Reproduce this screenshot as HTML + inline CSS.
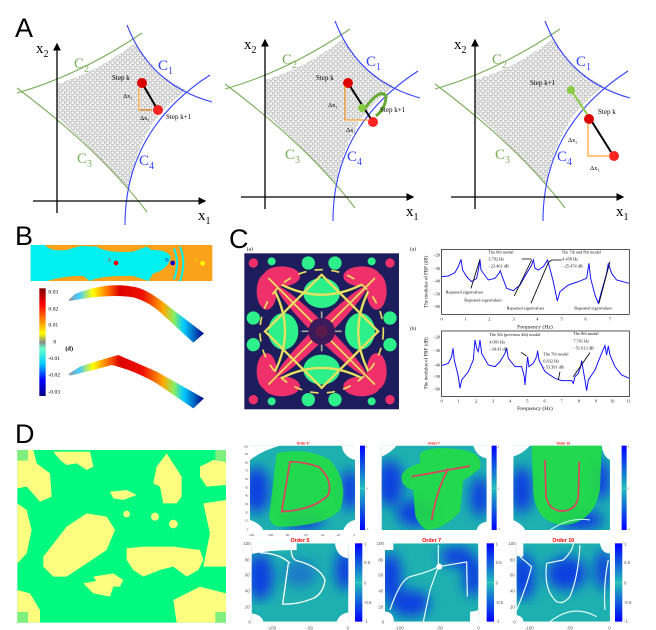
<!DOCTYPE html>
<html><head><style>
body{margin:0;background:#fff;width:656px;height:630px;overflow:hidden}
svg{display:block;font-family:"Liberation Serif",serif}
.L{font-family:"Liberation Sans",sans-serif;font-size:27px}
</style></head><body>
<svg width="656" height="630" viewBox="0 0 656 630">
<defs>
<pattern id="hat" width="5" height="5" patternUnits="userSpaceOnUse"><rect width="5" height="5" fill="#fff"/><rect x="1" y="1" width="3.2" height="3.2" fill="none" stroke="#888" stroke-width="0.55"/></pattern>
<marker id="ar" markerWidth="6" markerHeight="6" refX="5" refY="3" orient="auto"><path d="M0,0L6,3L0,6z" fill="#000"/></marker>
<linearGradient id="jet" x1="0" y1="0" x2="0" y2="1"><stop offset="0" stop-color="#800000"/><stop offset=".15" stop-color="#f00"/><stop offset=".3" stop-color="#f80"/><stop offset=".42" stop-color="#ff0"/><stop offset=".5" stop-color="#888"/><stop offset=".56" stop-color="#6fc"/><stop offset=".7" stop-color="#0cf"/><stop offset=".85" stop-color="#00f"/><stop offset="1" stop-color="#008"/></linearGradient>
<linearGradient id="beam" x1="0" x2="1"><stop offset="0" stop-color="#999"/><stop offset=".08" stop-color="#4cf"/><stop offset=".18" stop-color="#ff0"/><stop offset=".3" stop-color="#f60"/><stop offset=".38" stop-color="#d00"/><stop offset=".55" stop-color="#e10"/><stop offset=".7" stop-color="#fa0"/><stop offset=".78" stop-color="#8e6"/><stop offset=".85" stop-color="#0cf"/><stop offset="1" stop-color="#008"/></linearGradient>
<linearGradient id="cb" x1="0" y1="0" x2="0" y2="1"><stop offset="0" stop-color="#00f"/><stop offset=".5" stop-color="#2bb"/><stop offset=".5" stop-color="#7dd"/><stop offset=".51" stop-color="#2bb"/><stop offset="1" stop-color="#00f"/></linearGradient>
<filter id="bf"><feGaussianBlur stdDeviation="18"/></filter>
<g id="panA">
<path d="M57,84 Q97,72 135,43 Q152,75 187,90 Q140,120 128,190 Q95,150 57,117 Z" fill="url(#hat)"/>
<path d="M17,93 Q80,75 142,33" stroke="#7aae5a" fill="none" stroke-width="1.1"/>
<path d="M17,88 Q100,150 147,212" stroke="#7aae5a" fill="none" stroke-width="1.1"/>
<path d="M127,25 Q150,85 212,102" stroke="#3344ff" fill="none" stroke-width="1.1"/>
<path d="M125,225 Q125,130 210,75" stroke="#3344ff" fill="none" stroke-width="1.1"/>
<line x1="57" y1="213" x2="57" y2="44" stroke="#000" stroke-width="1.3" marker-end="url(#ar)"/>
<line x1="33" y1="201" x2="205" y2="201" stroke="#000" stroke-width="1.3" marker-end="url(#ar)"/>
<text x="36" y="53" font-size="15">x<tspan font-size="10" dy="4">2</tspan></text>
<text x="198" y="220" font-size="15">x<tspan font-size="10" dy="4">1</tspan></text>
<text x="74" y="68" font-size="15" fill="#7aae5a">C<tspan font-size="10" dy="4">2</tspan></text>
<text x="158" y="70" font-size="15" fill="#3344ff">C<tspan font-size="10" dy="4">1</tspan></text>
<text x="77" y="163" font-size="15" fill="#7aae5a">C<tspan font-size="10" dy="4">3</tspan></text>
<text x="139" y="165" font-size="15" fill="#3344ff">C<tspan font-size="10" dy="4">4</tspan></text>
</g>
</defs>
<text class="L" x="15" y="37">A</text>
<use href="#panA"/>
<line x1="142" y1="83" x2="156" y2="107" stroke="#000" stroke-width="2"/>
<circle cx="142" cy="83" r="5" fill="#d00"/><circle cx="158" cy="110" r="5" fill="#f22"/>
<path d="M139,88V110H152" stroke="#f80" fill="none"/>
<text x="112" y="80" font-size="7">Step k</text><text x="166" y="119" font-size="7">Step k+1</text>
<text x="123" y="98" font-size="6.5">Δx₂</text><text x="140" y="120" font-size="6.5">Δx₁</text>
<g transform="translate(208,-4)"><use href="#panA"/>
<line x1="140" y1="87" x2="163" y2="123" stroke="#000" stroke-width="2"/>
<circle cx="140" cy="87" r="5" fill="#d00"/><circle cx="165" cy="126" r="5" fill="#f22"/>
<path d="M157,112 Q172,92 178,100 Q178,112 168,120" stroke="#6a3" stroke-width="3" fill="none"/>
<circle cx="154" cy="112" r="4" fill="#8c4"/>
<path d="M137,90V124H160" stroke="#f80" fill="none"/>
<text x="108" y="84" font-size="7">Step k</text><text x="172" y="116" font-size="7">Step k+1</text>
<text x="120" y="111" font-size="6.5">Δx₂</text><text x="138" y="136" font-size="6.5">Δx₁</text></g>
<g transform="translate(418,-4)"><use href="#panA"/>
<line x1="153" y1="94" x2="171" y2="121" stroke="#8c4" stroke-width="2"/>
<line x1="171" y1="121" x2="193" y2="156" stroke="#000" stroke-width="2"/>
<circle cx="153" cy="94" r="4" fill="#8c4"/><circle cx="171" cy="123" r="5" fill="#d00"/><circle cx="196" cy="160" r="5" fill="#f22"/>
<path d="M170,128V160H192" stroke="#f80" fill="none"/>
<text x="112" y="89" font-size="7">Step k+1</text><text x="180" y="118" font-size="7">Step k</text>
<text x="150" y="146" font-size="6.5">Δx₂</text><text x="172" y="174" font-size="6.5">Δx₁</text></g>

<!-- B -->
<text class="L" x="15" y="245">B</text>
<g transform="translate(0,220) scale(0.3333)">
<rect x="92" y="75" width="545" height="108" fill="#f9a21a"/>
<path d="M92,75 H135 Q150,95 200,90 L240,78 L290,80 Q320,100 400,95 L440,80 L455,90 Q500,88 512,110 Q505,150 460,160 L445,183 L400,168 Q300,166 270,183 L250,168 Q200,166 140,183 H92 Z" fill="#00f0f0"/>
<path d="M522,85 Q540,128 522,178 M540,80 Q560,128 540,183" stroke="#00f0f0" stroke-width="6" fill="none"/>
<circle cx="348" cy="129" r="7" fill="#e00"/><circle cx="518" cy="129" r="7" fill="#00c"/><circle cx="608" cy="130" r="7" fill="#ff0"/>
<text x="322" y="124" font-size="17" fill="#d33">A</text><text x="495" y="124" font-size="17" fill="#22c">B</text><text x="582" y="124" font-size="17" fill="#ee0">C</text>
<rect x="118" y="205" width="19" height="323" fill="url(#jet)"/>
<g font-size="17"><text x="145" y="220">0.03</text><text x="145" y="272">0.02</text><text x="145" y="320">0.01</text><text x="160" y="370">0</text><text x="145" y="420">-0.01</text><text x="145" y="470">-0.02</text><text x="145" y="520">-0.03</text><text x="196" y="392" font-weight="bold" font-size="19">(d)</text></g>
<path d="M205,240 L225,222 Q330,180 420,205 Q460,220 520,270 L612,340 L580,368 L495,290 Q450,245 400,232 Q320,220 210,243 Z" fill="url(#beam)"/>
<path d="M205,462 L240,440 Q300,420 355,405 L470,455 L612,535 L580,565 L470,490 Q400,450 335,435 Q290,448 210,467 Z" fill="url(#beam)"/>
</g>

<!-- C -->
<text class="L" x="229" y="248">C</text>
<g transform="translate(225,220) scale(0.3333)">
<text x="65" y="92" font-size="17">(a)</text>
<rect x="58" y="100" width="464" height="468" fill="#1d1d5e"/>
<g transform="translate(290,334)">
<g fill="#f0306a"><ellipse rx="190" ry="22" transform="rotate(45)"/><ellipse rx="190" ry="22" transform="rotate(-45)"/>
<ellipse cx="-120" cy="-165" rx="55" ry="30"/><ellipse cx="120" cy="-165" rx="55" ry="30"/><ellipse cx="-120" cy="165" rx="55" ry="30"/><ellipse cx="120" cy="165" rx="55" ry="30"/>
<ellipse cx="-165" cy="-120" rx="30" ry="55"/><ellipse cx="165" cy="-120" rx="30" ry="55"/><ellipse cx="-165" cy="120" rx="30" ry="55"/><ellipse cx="165" cy="120" rx="30" ry="55"/>
<circle cx="-205" cy="-205" r="14"/><circle cx="205" cy="-205" r="14"/><circle cx="-205" cy="205" r="14"/><circle cx="205" cy="205" r="14"/></g>
<g fill="#2ef08a"><ellipse cx="0" cy="-115" rx="55" ry="45"/><ellipse cx="0" cy="115" rx="55" ry="45"/><ellipse cx="-115" cy="0" rx="45" ry="55"/><ellipse cx="115" cy="0" rx="45" ry="55"/>
<circle cx="-205" cy="-40" r="20"/><circle cx="205" cy="-40" r="20"/><circle cx="-205" cy="40" r="20"/><circle cx="205" cy="40" r="20"/>
<circle cx="-40" cy="-205" r="20"/><circle cx="40" cy="-205" r="20"/><circle cx="-40" cy="205" r="20"/><circle cx="40" cy="205" r="20"/>
<circle cx="-150" cy="-210" r="12"/><circle cx="150" cy="-210" r="12"/><circle cx="-150" cy="210" r="12"/><circle cx="150" cy="210" r="12"/></g>
<g stroke="#e8e060" stroke-width="7" fill="none"><rect x="-120" y="-120" width="240" height="240" transform="rotate(45)"/><path d="M-160,-160L160,160M160,-160L-160,160" stroke-width="5"/><circle r="185" stroke-width="5" stroke-dasharray="25 25"/><path d="M-120,-140Q0,-80 120,-140M-120,140Q0,80 120,140M-140,-120Q-80,0 -140,120M140,-120Q80,0 140,120"/><path d="M-60,0H60M0,-60V60" stroke="#aa9" stroke-width="5"/></g>
<circle r="40" fill="#3a1a5a"/><circle r="18" fill="#5a1a4a"/>
</g>
<g font-size="13" fill="#111">
<rect x="650" y="88" width="563" height="195" fill="none" stroke="#000" stroke-width="2"/>
<path d="M650,170 L670,168 L690,158 L700,140 L708,118 L713,150 L725,170 L740,185 L755,175 L762,140 L765,118 L768,150 L790,180 L810,175 L822,160 L826,152 L830,165 L845,205 L865,212 L885,195 L905,160 L920,135 L925,120 L930,145 L940,150 L955,140 L968,120 L972,135 L985,185 L997,243 L1005,215 L1030,195 L1060,185 L1085,175 L1092,130 L1097,175 L1110,225 L1120,250 L1128,220 L1145,160 L1150,130 L1160,160 L1175,180 L1212,190" stroke="#1515ff" fill="none" stroke-width="3"/>
<path d="M738,205L765,118M868,228L920,120M890,117H920M918,250L970,128L980,120H1010M1122,250L1155,125" stroke="#000" stroke-width="2.5" fill="none"/>
<text x="790" y="100">The 6th modal</text><text x="790" y="122">3.792 Hz</text><text x="790" y="143">−23.461 dB</text>
<text x="1010" y="100">The 7th and 8th modal</text><text x="1012" y="122">4.458 Hz</text><text x="1012" y="143">−25.474 dB</text>
<text x="662" y="220">Repeated eigenvalues</text><text x="718" y="245">Repeated eigenvalues</text><text x="845" y="268">Repeated eigenvalues</text><text x="1048" y="268">Repeated eigenvalues</text>
<g text-anchor="end"><text x="645" y="109">−20</text><text x="645" y="150">−30</text><text x="645" y="187">−40</text><text x="645" y="226">−50</text><text x="645" y="264">−60</text>
<text x="645" y="356">−20</text><text x="645" y="396">−30</text><text x="645" y="439">−40</text><text x="645" y="474">−50</text><text x="645" y="512">−60</text></g>
<g text-anchor="middle"><text x="650" y="302">0</text><text x="722" y="302">1</text><text x="793" y="302">2</text><text x="866" y="302">3</text><text x="937" y="302">4</text><text x="1010" y="302">5</text><text x="1082" y="302">6</text><text x="1155" y="302">7</text>
<text x="650" y="548">0</text><text x="701" y="548">1</text><text x="753" y="548">2</text><text x="804" y="548">3</text><text x="856" y="548">4</text><text x="907" y="548">5</text><text x="959" y="548">6</text><text x="1010" y="548">7</text><text x="1062" y="548">8</text><text x="1113" y="548">9</text><text x="1162" y="548">10</text><text x="1210" y="548">11</text>
<text x="930" y="326" font-size="17">Frequency (Hz)</text><text x="930" y="570" font-size="17">Frequency (Hz)</text></g>
<text transform="translate(607,185)rotate(-90)" text-anchor="middle" font-size="15">The modulus of FRF (dB)</text>
<text transform="translate(607,430)rotate(-90)" text-anchor="middle" font-size="15">The modulus of FRF (dB)</text>
<text x="555" y="92" font-size="16">(a)</text><text x="555" y="330" font-size="16">(b)</text>
<rect x="650" y="333" width="563" height="197" fill="none" stroke="#000" stroke-width="2"/>
<path d="M650,437 L670,430 L680,410 L684,385 L688,420 L700,470 L705,505 L710,480 L730,455 L745,420 L750,360 L755,385 L760,395 L765,360 L770,400 L790,435 L810,440 L825,425 L840,400 L845,385 L850,415 L870,440 L890,440 L898,470 L900,495 L905,440 L908,410 L912,440 L925,430 L935,410 L938,392 L942,420 L960,455 L990,475 L1010,482 L1040,482 L1045,490 L1050,470 L1060,460 L1067,440 L1070,422 L1073,440 L1080,480 L1085,512 L1090,480 L1110,450 L1130,400 L1140,377 L1145,405 L1150,378 L1155,405 L1170,440 L1190,465 L1213,475" stroke="#1515ff" fill="none" stroke-width="3"/>
<path d="M888,397L905,408M1000,480L1005,455M1045,470L1095,398" stroke="#000" stroke-width="2.5"/>
<text x="793" y="348">The 5th (previous 4th) modal</text><text x="793" y="370">4.991 Hz</text><text x="793" y="392">−34.41 dB</text>
<text x="955" y="407">The 7th modal</text><text x="955" y="428">6.832 Hz</text><text x="955" y="445">−53.391 dB</text>
<text x="1045" y="345">The 8th modal</text><text x="1045" y="368">7.701 Hz</text><text x="1045" y="388">−51.013 dB</text>
</g>
</g>

<!-- D -->
<text class="L" x="15" y="443">D</text>
<g transform="translate(0,420) scale(0.3333)">
<rect x="52" y="90" width="626" height="518" fill="#00fa80"/>
<g fill="#fdfd80">
<path d="M52,90H100L110,130L150,160L155,230L120,245L80,200L52,205Z"/>
<path d="M160,95H270L280,140L260,150L230,130L200,135L180,120Z"/>
<path d="M470,140L500,100L545,170L545,230L530,250L490,250L480,200L460,190Z"/>
<path d="M600,140L640,120L678,125V195L620,200L600,170Z"/>
<path d="M52,250L80,270L95,330L80,400L52,430Z"/>
<path d="M130,410L200,320L260,280L320,290L345,330L320,390L260,430L200,470L160,470L130,440Z"/>
<path d="M330,215L380,210L410,225L370,240L340,235Z"/>
<circle cx="465" cy="290" r="12"/><circle cx="520" cy="312" r="13"/><circle cx="380" cy="282" r="10"/>
<path d="M380,385L430,380L520,380L600,390L610,420L595,450L560,470L520,440L480,450L430,470L400,450L380,420Z"/>
<path d="M610,250L678,240V440H610L630,340Z"/>
<path d="M52,510L90,520L120,570V608H52Z"/>
<path d="M250,490L300,480L340,500L330,530L280,520Z"/>
<path d="M520,540L600,500L678,520V608H530Z"/>
<path d="M280,470L340,460L370,480L360,500L300,500Z"/>
</g>
<g fill="#7ff07f"><rect x="52" y="90" width="32" height="32"/><rect x="646" y="90" width="32" height="32"/><rect x="52" y="576" width="32" height="32"/><rect x="646" y="576" width="32" height="32"/></g>
</g>
<g transform="translate(230,430) scale(0.3333)" font-family="Liberation Sans,sans-serif">
<defs>
<clipPath id="c1"><rect x="60" y="47" width="315" height="253"/></clipPath>
<clipPath id="c2"><rect x="455" y="47" width="315" height="253"/></clipPath>
<clipPath id="c3"><rect x="850" y="47" width="290" height="253"/></clipPath>
<clipPath id="c4"><rect x="65" y="340" width="290" height="235"/></clipPath>
<clipPath id="c5"><rect x="465" y="340" width="280" height="235"/></clipPath>
<clipPath id="c6"><rect x="860" y="340" width="280" height="235"/></clipPath>
</defs>
<g clip-path="url(#c1)"><rect x="60" y="47" width="315" height="253" fill="#1eb0b0"/><g filter="url(#bf)" fill="#1040e0"><ellipse cx="80" cy="180" rx="40" ry="70"/><ellipse cx="360" cy="180" rx="30" ry="60"/><ellipse cx="220" cy="270" rx="60" ry="30"/></g>
<path d="M60,47H150Q100,60 60,90Z M60,270Q90,280 100,300H60Z M335,47H375V90Q340,80 335,47Z M340,300Q350,275 375,270V300Z" fill="#fff"/>
<path d="M140,70 Q230,50 300,90 Q360,160 330,240 Q280,290 150,290 Q110,285 120,240 Z" fill="#22dd44" opacity=".9"/>
<path d="M180,95 L155,245 Q250,240 295,195 Q310,150 265,110 Q220,95 180,95 Z" stroke="#e04060" stroke-width="5" fill="none"/></g>
<g clip-path="url(#c2)"><rect x="455" y="47" width="315" height="253" fill="#1eb0b0"/><g filter="url(#bf)" fill="#1040e0"><ellipse cx="480" cy="160" rx="40" ry="70"/><ellipse cx="750" cy="200" rx="30" ry="60"/><ellipse cx="560" cy="250" rx="60" ry="40"/></g>
<path d="M455,47H500Q480,70 455,80Z M740,300Q745,280 770,275V300Z M730,47H770V85Q740,80 730,47Z" fill="#fff"/>
<path d="M570,70 Q600,45 700,60 Q760,70 750,115 Q720,140 700,150 L690,245 Q640,300 590,300 Q560,280 555,250 L550,180 Q510,170 515,135 Q530,110 570,100 Z" fill="#22dd44" opacity=".9"/>
<path d="M545,140 L720,108 M655,115 Q620,180 605,270" stroke="#e04060" stroke-width="5" fill="none"/></g>
<g clip-path="url(#c3)"><rect x="850" y="47" width="290" height="253" fill="#1eb0b0"/><g filter="url(#bf)" fill="#1040e0"><ellipse cx="875" cy="180" rx="35" ry="70"/><ellipse cx="1110" cy="150" rx="30" ry="60"/><ellipse cx="1050" cy="270" rx="70" ry="30"/></g>
<path d="M850,47H900Q880,70 850,80Z M850,270Q880,285 885,300H850Z M1115,47H1140V90Q1120,80 1115,47Z" fill="#fff"/>
<path d="M905,47 H1115 L1110,180 Q1090,280 1000,285 Q920,280 910,190 Z" fill="#22dd44" opacity=".9"/>
<path d="M945,90 L948,200 Q960,245 1000,243 Q1040,240 1045,200 L1048,95" stroke="#e04060" stroke-width="5" fill="none"/>
<path d="M960,300Q1020,260 1080,270" stroke="#cfe" stroke-width="3" fill="none"/></g>
<g clip-path="url(#c4)"><rect x="65" y="340" width="290" height="235" fill="#1eb0b0"/><g filter="url(#bf)" fill="#1040e0"><ellipse cx="90" cy="440" rx="40" ry="70"/><ellipse cx="345" cy="420" rx="30" ry="60"/><ellipse cx="210" cy="430" rx="50" ry="40" opacity=".5"/></g>
<path d="M65,340H200V360Q120,360 65,372Z M65,550Q95,555 100,575H65Z M315,340H355V385Q320,380 315,340Z M320,575Q330,550 355,548V575Z" fill="#fff"/>
<path d="M90,368Q150,370 180,400M185,345Q180,385 200,392Q270,410 285,450Q280,490 250,505Q200,525 158,522L175,400" stroke="#fff" stroke-width="4" fill="none"/></g>
<g clip-path="url(#c5)"><rect x="465" y="340" width="280" height="235" fill="#1eb0b0"/><g filter="url(#bf)" fill="#1040e0"><ellipse cx="480" cy="440" rx="35" ry="70"/><ellipse cx="730" cy="440" rx="30" ry="60"/><ellipse cx="540" cy="520" rx="60" ry="40"/><ellipse cx="680" cy="380" rx="50" ry="30"/></g>
<path d="M465,340H490V360Q470,360 465,360Z M465,545Q490,545 492,575H465Z M720,545Q730,545 745,540V575H720Z" fill="#fff"/>
<path d="M480,540Q510,450 540,440Q600,425 625,410L710,396L712,500M625,345L625,410L600,480L580,575" stroke="#eff" stroke-width="3.5" fill="none"/><circle cx="628" cy="410" r="9" fill="#fff"/></g>
<g clip-path="url(#c6)"><rect x="860" y="340" width="280" height="235" fill="#1eb0b0"/><g filter="url(#bf)" fill="#1040e0"><ellipse cx="880" cy="440" rx="35" ry="70"/><ellipse cx="1010" cy="430" rx="60" ry="50"/><ellipse cx="1120" cy="420" rx="25" ry="60"/></g>
<path d="M860,340H880V380Q870,380 860,378Z M1110,340H1140V370Q1115,370 1110,340Z M860,555Q880,560 880,575H860Z" fill="#fff"/>
<path d="M950,400Q940,480 980,515Q1000,525 1020,500Q1045,440 1050,345M950,400L1000,390Q1030,360 1030,340M870,380L905,410M860,540Q890,470 905,410M960,575Q1030,520 1100,560M1135,390Q1120,460 1125,540" stroke="#eff" stroke-width="3.5" fill="none"/></g>
<g fill="url(#cb)"><rect x="390" y="47" width="15" height="253"/><rect x="785" y="47" width="15" height="253"/><rect x="1175" y="47" width="15" height="253"/><rect x="375" y="340" width="22" height="235"/><rect x="770" y="340" width="22" height="235"/><rect x="1155" y="340" width="22" height="235"/></g>
<g fill="#f00" font-weight="bold" text-anchor="middle"><text x="218" y="43" font-size="10">Order 5</text><text x="612" y="43" font-size="10">Order 7</text><text x="1000" y="43" font-size="10">Order 10</text>
<text x="210" y="336" font-size="16">Order 5</text><text x="605" y="336" font-size="16">Order 7</text><text x="1000" y="336" font-size="16">Order 10</text></g>
<g fill="#555" font-size="9"><text x="40" y="52">100</text><text x="45" y="75">90</text><text x="45" y="100">80</text><text x="45" y="125">70</text><text x="45" y="150">60</text><text x="45" y="175">50</text><text x="45" y="200">40</text><text x="45" y="225">30</text><text x="45" y="250">20</text><text x="45" y="275">10</text><text x="50" y="302">0</text>
<text x="55" y="318">-120</text><text x="112" y="318">-100</text><text x="165" y="318">-80</text><text x="220" y="318">-60</text><text x="270" y="318">-40</text><text x="318" y="318">-20</text><text x="370" y="318">0</text>
<text x="408" y="52">1</text><text x="408" y="300">-1</text><text x="803" y="52">1</text><text x="803" y="300">-1</text><text x="1193" y="52">1</text><text x="1193" y="300">-1</text>
<text x="408" y="178">0</text><text x="803" y="178">0</text><text x="1193" y="178">0</text></g>
<g fill="#555" font-size="13"><text x="40" y="345">100</text><text x="45" y="395">80</text><text x="45" y="440">60</text><text x="45" y="487">40</text><text x="45" y="535">20</text><text x="55" y="580">0</text>
<text x="440" y="345">100</text><text x="445" y="395">80</text><text x="445" y="440">60</text><text x="445" y="487">40</text><text x="445" y="535">20</text><text x="455" y="580">0</text>
<text x="835" y="345">100</text><text x="840" y="395">80</text><text x="840" y="440">60</text><text x="840" y="487">40</text><text x="840" y="535">20</text><text x="850" y="580">0</text>
<text x="112" y="598">-100</text><text x="230" y="598">-50</text><text x="350" y="598">0</text>
<text x="495" y="598">-100</text><text x="620" y="598">-50</text><text x="742" y="598">0</text>
<text x="885" y="598">-100</text><text x="1010" y="598">-50</text><text x="1135" y="598">0</text>
<text x="402" y="347">1</text><text x="402" y="402">0.5</text><text x="402" y="463">0</text><text x="402" y="522">-0.5</text><text x="402" y="578">-1</text>
<text x="797" y="347">1</text><text x="797" y="402">0.5</text><text x="797" y="463">0</text><text x="797" y="522">-0.5</text><text x="797" y="578">-1</text>
<text x="1182" y="347">1</text><text x="1182" y="402">0.5</text><text x="1182" y="463">0</text><text x="1182" y="522">-0.5</text><text x="1182" y="578">-1</text></g>
</g>
</svg>
</body></html>
